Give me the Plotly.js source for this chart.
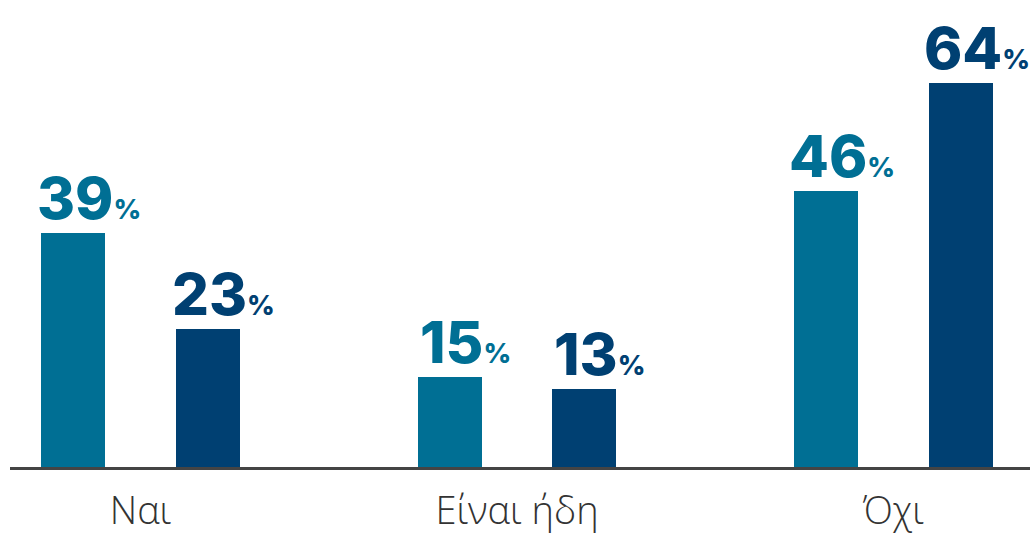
<!DOCTYPE html>
<html>
<head>
<meta charset="utf-8">
<script src="https://cdn.plot.ly/plotly-3.0.1.min.js"></script>
<style>
html,body{margin:0;padding:0;background:#fff;}
#chart{width:1030px;height:539px;}
</style>
</head>
<body>
<div id="chart"></div>
<script>
const categories = ["Ναι", "Είναι ήδη", "Όχι"];
const seriesA = [39, 15, 46];
const seriesB = [23, 13, 64];
const colorA = "#006f94";
const colorB = "#004072";

const barW = 0.17;
const shiftA = -0.179, shiftB = 0.179;
const idx = categories.map((c, i) => i);

const traces = [
  {type: "bar", x: idx, y: seriesA, width: barW, offset: shiftA - barW / 2,
   marker: {color: colorA}, hoverinfo: "skip", showlegend: false},
  {type: "bar", x: idx, y: seriesB, width: barW, offset: shiftB - barW / 2,
   marker: {color: colorB}, hoverinfo: "skip", showlegend: false}
];

function labels(vals, shift, color) {
  return vals.map((v, i) => ({
    x: i + shift, y: v, xref: "x", yref: "y",
    text: v + "<span style='font-size:27px'>%</span>",
    showarrow: false, xanchor: "center", yanchor: "bottom",
    xshift: 16, yshift: -2,
    font: {family: "Inter, sans-serif", size: 58, color: color, weight: 800}
  }));
}

const layout = {
  width: 1030, height: 539,
  margin: {l: 10, r: 0, t: 0, b: 72},
  paper_bgcolor: "#fff", plot_bgcolor: "#fff",
  bargap: 0,
  xaxis: {
    type: "linear", range: [-0.3466, 2.3625],
    tickvals: idx, ticktext: categories,
    showgrid: false, zeroline: false,
    showline: true, linecolor: "#444", linewidth: 3,
    ticks: "", ticklabelstandoff: 8,
    tickfont: {family: "Open Sans, sans-serif", size: 38, color: "#333", weight: 300}
  },
  yaxis: {range: [0, 467 / 6], visible: false, showgrid: false, zeroline: false},
  annotations: labels(seriesA, shiftA, colorA).concat(labels(seriesB, shiftB, colorB))
};

Plotly.newPlot("chart", traces, layout, {staticPlot: true, displayModeBar: false});
</script>
</body>
</html>
